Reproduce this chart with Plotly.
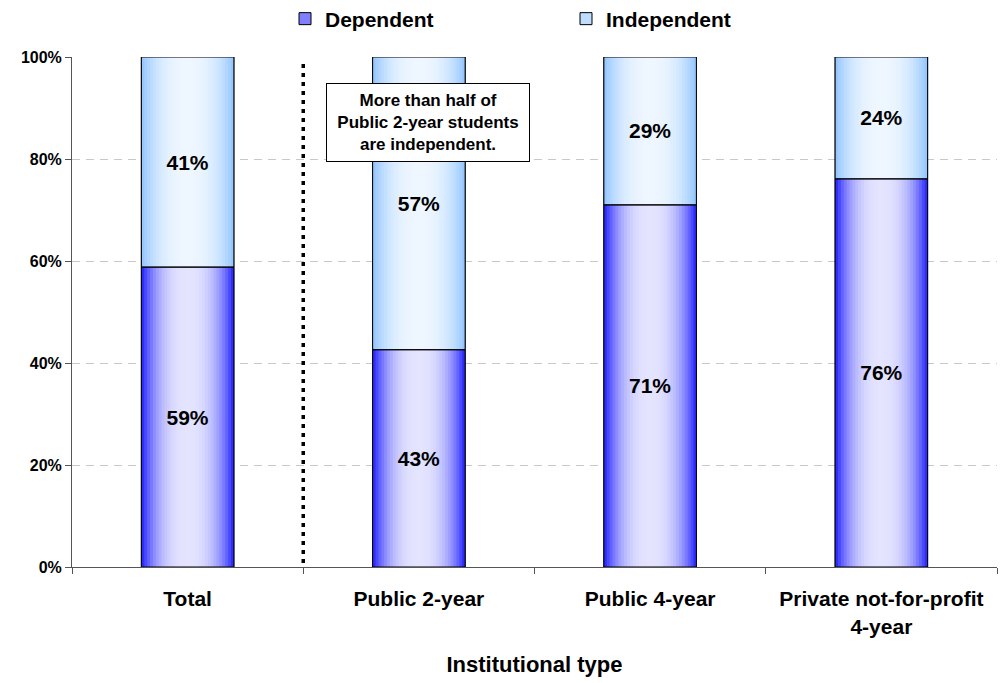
import plotly.graph_objects as go

# ---------------- data ----------------
categories = ["Total", "Public 2-year", "Public 4-year", "Private not-for-profit<br>4-year"]
dependent = [58.8, 42.6, 71.0, 76.1]
independent = [41.2, 57.4, 29.0, 23.9]
dependent_labels = ["59%", "43%", "71%", "76%"]
independent_labels = ["41%", "57%", "29%", "24%"]
y_ticks = [0, 20, 40, 60, 80, 100]
y_tick_labels = ["0%", "20%", "40%", "60%", "80%", "100%"]
note_text = "More than half of<br>Public 2-year students<br>are independent."

# ---------------- style ----------------
FONT = "Liberation Sans, Arial, sans-serif"
BAR_W = 0.4
N_LAYERS = 16
DEP_EDGE, DEP_CENTER = (45, 45, 255), (228, 228, 255)
IND_EDGE, IND_CENTER = (150, 200, 255), (238, 246, 255)


def mix(c1, c2, t):
    return "rgb(%d,%d,%d)" % tuple(round(a + (b - a) * t) for a, b in zip(c1, c2))


def ease(s):
    return 1 - (1 - s) ** 2.6


fig = go.Figure()

segments = [
    ("Dependent", dependent, [0] * len(dependent), dependent_labels, DEP_EDGE, DEP_CENTER),
    ("Independent", independent, dependent, independent_labels, IND_EDGE, IND_CENTER),
]

# legend-carrier traces (hidden underneath gradient layers)
for name, vals, base, labels, edge, center in segments:
    fig.add_trace(go.Bar(
        x=categories, y=vals, base=base, width=BAR_W, name=name,
        marker=dict(color=mix(edge, center, 0.45), line=dict(color="black", width=1)),
        hoverinfo="skip", showlegend=True,
    ))

# gradient layers
for name, vals, base, labels, edge, center in segments:
    for k in range(N_LAYERS):
        s = k / N_LAYERS
        fig.add_trace(go.Bar(
            x=categories, y=vals, base=base, width=BAR_W * (1 - s),
            marker=dict(color=mix(edge, center, ease(s)), line=dict(width=0)),
            hoverinfo="skip", showlegend=False,
        ))

# outlines + labels
for name, vals, base, labels, edge, center in segments:
    fig.add_trace(go.Bar(
        x=categories, y=vals, base=base, width=BAR_W,
        marker=dict(color="rgba(0,0,0,0)", line=dict(color="black", width=1)),
        text=labels, textposition="inside", insidetextanchor="middle",
        insidetextfont=dict(family=FONT, size=21, color="black", weight="bold"),
        textangle=0, hoverinfo="skip", showlegend=False,
    ))

# dotted separator between Total and the rest
fig.add_shape(type="line", xref="x", yref="y", x0=0.5, x1=0.5, y0=-1, y1=99,
              line=dict(color="black", width=3.5, dash="4px,5px"))

# note box
fig.add_annotation(
    x=categories[1], y=87.2, xref="x", yref="y", xshift=9.5,
    text="<b>" + note_text + "</b>", showarrow=False,
    font=dict(family=FONT, size=17, color="black"),
    bgcolor="white", bordercolor="black", borderwidth=1, borderpad=5,
    width=192, height=67, align="center",
)

fig.update_layout(
    width=1000, height=683,
    barmode="overlay",
    plot_bgcolor="white", paper_bgcolor="white",
    margin=dict(l=72, r=3, t=57, b=116),
    font=dict(family=FONT, color="black"),
    showlegend=True,
    legend=dict(
        orientation="h", xref="container", yref="container",
        x=0.285, xanchor="left", y=1 - 19 / 683, yanchor="middle",
        font=dict(family=FONT, size=21, color="black", weight="bold"),
        entrywidth=236, entrywidthmode="pixels",
        bgcolor="rgba(0,0,0,0)",
    ),
    xaxis=dict(
        type="category", tickson="boundaries", ticks="outside", ticklen=6,
        tickcolor="#555555", showline=True, linecolor="#555555", linewidth=1,
        tickfont=dict(family=FONT, size=21, color="black", weight="bold"),
        ticklabelstandoff=13,
        title=dict(text="Institutional type", standoff=20,
                   font=dict(family=FONT, size=22, color="black", weight="bold")),
        showgrid=False, range=[-0.5, 3.5],
    ),
    yaxis=dict(
        range=[0, 100], tickvals=y_ticks, ticktext=y_tick_labels,
        ticks="outside", ticklen=6, tickcolor="#555555",
        showline=True, linecolor="#555555", linewidth=1,
        tickfont=dict(family=FONT, size=16, color="black", weight="bold"),
        showgrid=True, gridcolor="#c8c8c8", gridwidth=1, griddash="8px,6px",
        zeroline=False,
    ),
)

fig.write_html("out.html", config={"displayModeBar": False},
               post_script="document.body.style.margin='0';")
